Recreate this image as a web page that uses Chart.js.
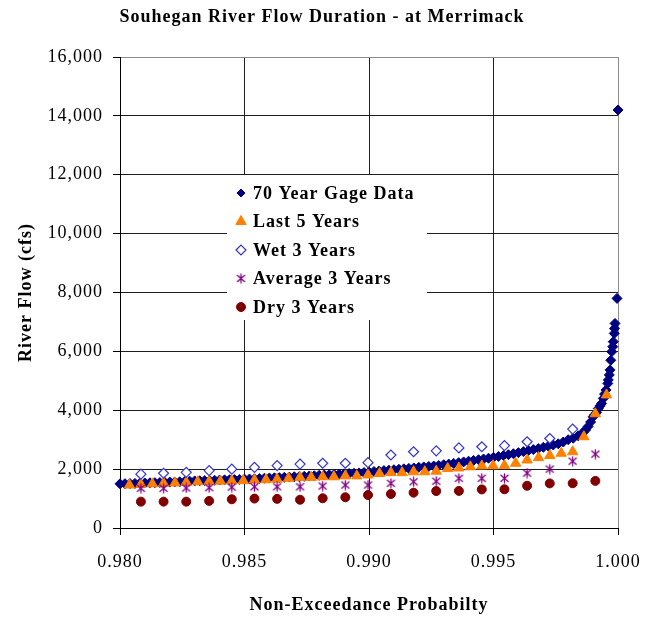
<!DOCTYPE html>
<html>
<head>
<meta charset="utf-8">
<title>Souhegan River Flow Duration</title>
<script src="https://cdn.jsdelivr.net/npm/chart.js@4.4.1/dist/chart.umd.min.js"></script>
<style>
  html, body { margin: 0; padding: 0; background: #fff; }
  #wrap { width: 660px; height: 621px; }
</style>
</head>
<body>
<div id="wrap"><canvas id="flowChart" width="660" height="621"></canvas></div>
<script>
const chartTitle = "Souhegan River Flow Duration - at Merrimack";
const seriesNames = ["70 Year Gage Data", "Last 5 Years", "Wet 3 Years", "Average 3 Years", "Dry 3 Years"];

const probTicks = [0.980, 0.985, 0.990, 0.995, 1.000];
const flowTicks = [0, 2000, 4000, 6000, 8000, 10000, 12000, 14000, 16000];

// long record, upper 2% of daily flows
const gageProb = [
  0.9800, 0.9802, 0.9804, 0.9806, 0.9808, 0.9810, 0.9812, 0.9814, 0.9816, 0.9818,
  0.9820, 0.9822, 0.9824, 0.9826, 0.9828, 0.9830, 0.9832, 0.9834, 0.9836, 0.9838,
  0.9840, 0.9842, 0.9844, 0.9846, 0.9848, 0.9850, 0.9852, 0.9854, 0.9856, 0.9858,
  0.9860, 0.9862, 0.9864, 0.9866, 0.9868, 0.9870, 0.9872, 0.9874, 0.9876, 0.9878,
  0.9880, 0.9882, 0.9884, 0.9886, 0.9888, 0.9890, 0.9892, 0.9894, 0.9896, 0.9898,
  0.9900, 0.9902, 0.9904, 0.9906, 0.9908, 0.9910, 0.9912, 0.9914, 0.9916, 0.9918,
  0.9920, 0.9922, 0.9924, 0.9926, 0.9928, 0.9930, 0.9932, 0.9934, 0.9936, 0.9938,
  0.9940, 0.9942, 0.9944, 0.9946, 0.9948, 0.9950, 0.9952, 0.9954, 0.9956, 0.9958,
  0.9960, 0.9962, 0.9964, 0.9966, 0.9968, 0.9970, 0.9972, 0.9974, 0.9976, 0.9978,
  0.9980, 0.9982, 0.9984, 0.9986, 0.9987, 0.9988, 0.9989, 0.9990, 0.99907, 0.99914,
  0.99921, 0.99928, 0.99934, 0.99941, 0.99946, 0.99952, 0.99959, 0.99961, 0.99965, 0.99968,
  0.99971, 0.99975, 0.99979, 0.99981, 0.99985, 0.99986, 0.99988, 0.99996, 1.0000
];
const gageFlow = [
  1500, 1505, 1510, 1515, 1520, 1530, 1535, 1540, 1545, 1550,
  1560, 1565, 1570, 1580, 1590, 1600, 1605, 1610, 1615, 1620,
  1630, 1635, 1640, 1645, 1650, 1660, 1665, 1670, 1680, 1690,
  1700, 1705, 1710, 1720, 1730, 1740, 1745, 1755, 1765, 1775,
  1790, 1800, 1810, 1820, 1830, 1840, 1850, 1860, 1870, 1885,
  1900, 1920, 1935, 1950, 1965, 1980, 1995, 2010, 2025, 2040,
  2060, 2075, 2090, 2105, 2125, 2150, 2170, 2195, 2220, 2245,
  2270, 2295, 2320, 2345, 2370, 2400, 2430, 2460, 2490, 2525,
  2560, 2595, 2630, 2665, 2700, 2740, 2780, 2820, 2860, 2920,
  3000, 3050, 3130, 3250, 3330, 3450, 3600, 3780, 3850, 3930,
  4060, 4150, 4230, 4400, 4550, 4690, 4910, 5030, 5200, 5370,
  5700, 5990, 6160, 6330, 6610, 6780, 6950, 7800, 14200
];

const last5Prob = [
  0.99954, 0.99909, 0.99863, 0.99818, 0.99772, 0.99726, 0.99681, 0.99635, 0.99589, 0.99544,
  0.99498, 0.99453, 0.99407, 0.99361, 0.99316, 0.99270, 0.99224, 0.99179, 0.99133, 0.99088,
  0.99042, 0.98996, 0.98951, 0.98905, 0.98859, 0.98814, 0.98768, 0.98723, 0.98677, 0.98631,
  0.98586, 0.98540, 0.98495, 0.98449, 0.98403, 0.98358, 0.98312, 0.98266, 0.98221, 0.98175,
  0.98130, 0.98084, 0.98038
];
const last5Flow = [
  4520, 3880, 3100, 2590, 2540, 2460, 2390, 2310, 2200, 2120,
  2116, 2110, 2080, 2040, 2020, 1930, 1910, 1910, 1880, 1880,
  1850, 1800, 1770, 1770, 1740, 1740, 1720, 1720, 1690, 1660,
  1640, 1630, 1610, 1600, 1590, 1580, 1570, 1550, 1530, 1520,
  1500, 1480, 1460
];

// three-year periods share the same plotting positions
const threeYrProb = [
  0.99909, 0.99818, 0.99726, 0.99635, 0.99544, 0.99453, 0.99361, 0.99270, 0.99179, 0.99088,
  0.98996, 0.98905, 0.98814, 0.98723, 0.98631, 0.98540, 0.98449, 0.98358, 0.98266, 0.98175,
  0.98084
];
const wetFlow = [
  null, 3360, 3040, 2930, 2800, 2760, 2720, 2620, 2590, 2480,
  2220, 2200, 2200, 2170, 2120, 2060, 2000, 1950, 1890, 1860,
  1830
];
const avgFlow = [
  2510, 2270, 2000, 1865, 1690, 1690, 1690, 1590, 1570, 1520,
  1460, 1460, 1425, 1400, 1400, 1400, 1390, 1370, 1360, 1350,
  1350
];
const dryFlow = [
  1600, 1520, 1515, 1435, 1315, 1310, 1260, 1255, 1200, 1155,
  1120, 1045, 1010, 960, 990, 1000, 975, 920, 895, 895,
  895
];

const serif = '"Liberation Serif", "Times New Roman", Times, serif';
Chart.defaults.font.family = serif;
Chart.defaults.font.size = 18;
Chart.defaults.color = '#000';

function pairs(xs, ys) {
  return xs.map((x, i) => ({ x: x, y: ys[i] }));
}

// excel style star marker: an X crossed by a vertical stroke
function starMarker(color) {
  const c = document.createElement('canvas');
  c.width = 11; c.height = 11;
  const g = c.getContext('2d');
  g.strokeStyle = color;
  g.lineWidth = 1.3;
  g.beginPath();
  g.moveTo(5.5, 0.5); g.lineTo(5.5, 10.5);
  g.moveTo(1.5, 2); g.lineTo(9.5, 9);
  g.moveTo(9.5, 2); g.lineTo(1.5, 9);
  g.stroke();
  return c;
}

function drawMarker(ctx, ds, x, y) {
  const st = ds.pointStyle;
  const r = ds.keyRadius || ds.pointRadius;
  if (typeof st !== 'string') {
    ctx.drawImage(st, x - st.width / 2, y - st.height / 2);
    return;
  }
  ctx.beginPath();
  if (st === 'rectRot') {
    ctx.moveTo(x - r, y); ctx.lineTo(x, y - r); ctx.lineTo(x + r, y); ctx.lineTo(x, y + r);
    ctx.closePath();
  } else if (st === 'triangle') {
    ctx.moveTo(x, y - r); ctx.lineTo(x + 0.866 * r, y + r / 2); ctx.lineTo(x - 0.866 * r, y + r / 2);
    ctx.closePath();
  } else {
    ctx.arc(x, y, r, 0, Math.PI * 2);
  }
  ctx.fillStyle = ds.backgroundColor;
  ctx.fill();
  ctx.lineWidth = ds.borderWidth;
  ctx.strokeStyle = ds.borderColor;
  ctx.stroke();
}

const spacing = {
  id: 'spacing',
  beforeDraw(chart) { chart.ctx.letterSpacing = '1px'; }
};

// title on top and the key box inside the plot
const titleAndKey = {
  id: 'titleAndKey',
  afterDraw(chart) {
    const ctx = chart.ctx;
    const area = chart.chartArea;
    ctx.save();
    ctx.letterSpacing = '1px';
    ctx.font = 'bold 18px ' + serif;
    ctx.fillStyle = '#000';
    ctx.textAlign = 'center';
    ctx.textBaseline = 'middle';
    ctx.fillText(chartTitle, 322, 17);

    const left = area.left + 107, top = area.top + 118;
    ctx.fillStyle = '#fff';
    ctx.fillRect(left, top, 200, 145);
    ctx.textAlign = 'left';
    chart.data.datasets.forEach((ds, i) => {
      const y = top + 18 + i * 28.5;
      drawMarker(ctx, ds, left + 14, y);
      ctx.fillStyle = '#000';
      ctx.fillText(ds.label, left + 26, y + 1);
    });
    ctx.restore();
  }
};

const ctx = document.getElementById('flowChart').getContext('2d');
new Chart(ctx, {
  type: 'scatter',
  data: {
    datasets: [
      {
        label: seriesNames[0], data: pairs(gageProb, gageFlow), order: 5,
        pointStyle: 'rectRot', pointRadius: 5, keyRadius: 4,
        backgroundColor: '#000080', borderColor: '#000080', borderWidth: 1
      },
      {
        label: seriesNames[1], data: pairs(last5Prob, last5Flow), order: 4,
        pointStyle: 'triangle', pointRadius: 6,
        backgroundColor: '#ff8000', borderColor: '#ff8000', borderWidth: 1
      },
      {
        label: seriesNames[2], data: pairs(threeYrProb, wetFlow), order: 3,
        pointStyle: 'rectRot', pointRadius: 5,
        backgroundColor: '#ffffff', borderColor: '#3333cc', borderWidth: 1.2
      },
      {
        label: seriesNames[3], data: pairs(threeYrProb, avgFlow), order: 2,
        pointStyle: starMarker('#800080'), pointRadius: 5,
        backgroundColor: '#800080', borderColor: '#800080', borderWidth: 1
      },
      {
        label: seriesNames[4], data: pairs(threeYrProb, dryFlow), order: 1,
        pointStyle: 'circle', pointRadius: 4.5,
        backgroundColor: '#800000', borderColor: '#800000', borderWidth: 1
      }
    ]
  },
  options: {
    responsive: false,
    animation: false,
    clip: false,
    layout: { padding: { top: 57, right: 42, bottom: 0, left: 0 } },
    plugins: {
      legend: { display: false },
      tooltip: { enabled: false }
    },
    scales: {
      x: {
        type: 'linear',
        min: 0.98,
        max: 1.0,
        afterBuildTicks: s => { s.ticks = probTicks.map(v => ({ value: v })); },
        afterFit: s => { s.height = 93; },
        ticks: {
          padding: 16,
          maxRotation: 0,
          autoSkip: false,
          callback: v => Number(v).toFixed(3)
        },
        grid: {
          color: c => c.index === probTicks.length - 1 ? '#8c8c8c' : '#1e1e1e',
          tickColor: '#000',
          tickLength: 7
        },
        border: { color: '#000', width: 1 },
        title: {
          display: true,
          text: 'Non-Exceedance Probabilty',
          font: { weight: 'bold', size: 18 },
          padding: { top: 0, bottom: 5 }
        }
      },
      y: {
        min: 0,
        max: 16000,
        afterBuildTicks: s => { s.ticks = flowTicks.map(v => ({ value: v })); },
        afterFit: s => { s.width = 120; },
        ticks: {
          padding: 10,
          callback: v => v.toLocaleString('en-US')
        },
        grid: {
          color: c => c.index === flowTicks.length - 1 ? '#8c8c8c' : '#1e1e1e',
          tickColor: '#000',
          tickLength: 7
        },
        border: { color: '#000', width: 1 },
        title: {
          display: true,
          text: 'River Flow (cfs)',
          font: { weight: 'bold', size: 18 },
          padding: { top: 16, bottom: 0 }
        }
      }
    }
  },
  plugins: [spacing, titleAndKey]
});
</script>
</body>
</html>
